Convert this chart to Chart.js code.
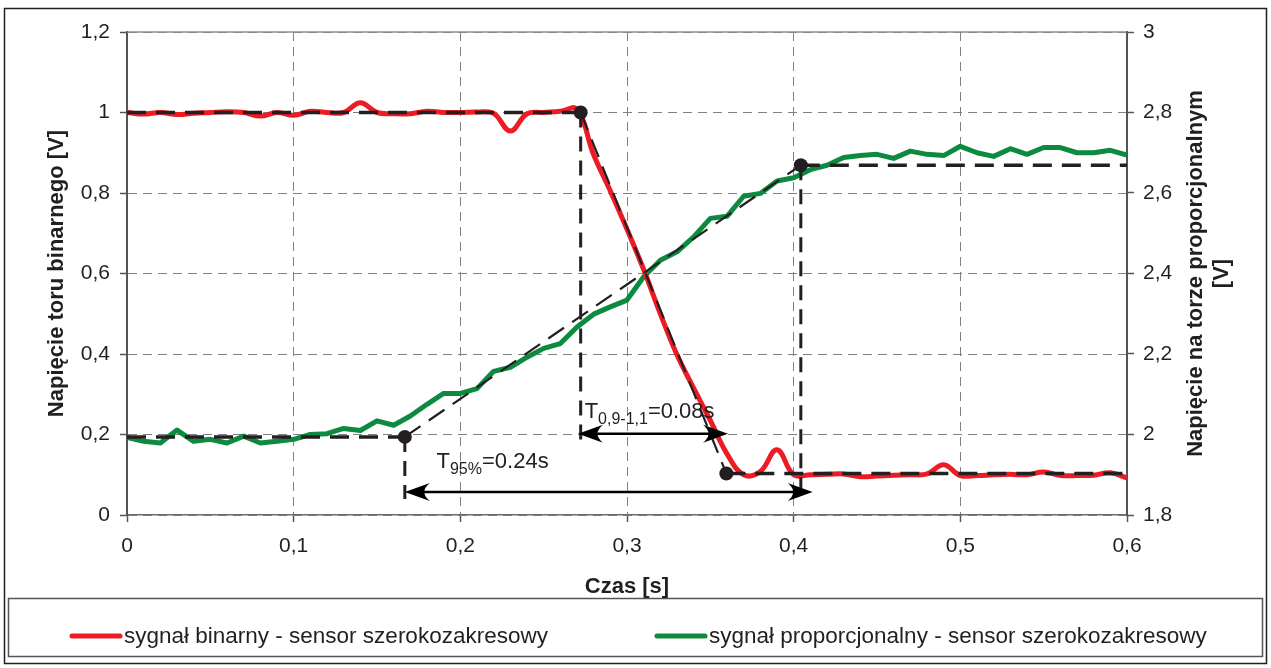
<!DOCTYPE html>
<html>
<head>
<meta charset="utf-8">
<title>Napięcie - sygnał binarny i proporcjonalny</title>
<script src="https://cdn.jsdelivr.net/npm/chart.js@4.4.0/dist/chart.umd.min.js"></script>
<style>
  html, body { margin: 0; padding: 0; background: #fff; }
  #wrap { position: relative; width: 1271px; height: 668px; }
</style>
</head>
<body>
<div id="wrap"><canvas id="chart" width="1271" height="668"></canvas></div>
<script>
// Czas [s] - probki co 0,01 s
const times = [
  0, 0.01, 0.02, 0.03, 0.04, 0.05, 0.06, 0.07, 0.08, 0.09,
  0.10, 0.11, 0.12, 0.13, 0.14, 0.15, 0.16, 0.17, 0.18, 0.19,
  0.20, 0.21, 0.22, 0.23, 0.24, 0.25, 0.26, 0.27, 0.28, 0.29,
  0.30, 0.31, 0.32, 0.33, 0.34, 0.35, 0.36, 0.37, 0.38, 0.39,
  0.40, 0.41, 0.42, 0.43, 0.44, 0.45, 0.46, 0.47, 0.48, 0.49,
  0.50, 0.51, 0.52, 0.53, 0.54, 0.55, 0.56, 0.57, 0.58, 0.59, 0.60
];

// sygnał binarny [V] (oś lewa)
const binarySignal = [
  1.000, 0.996, 1.000, 0.995, 0.998, 1.000, 1.002, 1.000, 0.991, 1.000,
  0.993, 1.003, 1.000, 1.000, 1.024, 1.000, 0.997, 0.997, 1.003, 1.000,
  1.000, 1.001, 0.998, 0.954, 0.997, 1.000, 1.003, 1.008, 0.895, 0.805,
  0.710, 0.610, 0.500, 0.398, 0.315, 0.235, 0.152, 0.100, 0.108, 0.162,
  0.100, 0.100, 0.101, 0.102, 0.095, 0.097, 0.099, 0.100, 0.102, 0.125,
  0.098, 0.098, 0.100, 0.101, 0.100, 0.107, 0.098, 0.098, 0.099, 0.105, 0.092
];

// sygnał proporcjonalny [V] (oś prawa)
const proportionalSignal = [
  1.993, 1.983, 1.979, 2.011, 1.983, 1.988, 1.979, 1.996, 1.979, 1.983,
  1.988, 2.000, 2.002, 2.015, 2.010, 2.034, 2.023, 2.046, 2.075, 2.102,
  2.102, 2.114, 2.157, 2.167, 2.192, 2.214, 2.226, 2.267, 2.299, 2.317,
  2.334, 2.392, 2.433, 2.454, 2.491, 2.537, 2.542, 2.592, 2.599, 2.630,
  2.638, 2.658, 2.669, 2.688, 2.693, 2.696, 2.686, 2.704, 2.696, 2.693,
  2.716, 2.700, 2.691, 2.710, 2.696, 2.713, 2.713, 2.700, 2.700, 2.706, 2.694
];

// linie pomocnicze (przerywane)
const binaryRefX = [0, 0.2722, 0.3596, 0.6];
const binaryRefY = [1.0, 1.0, 0.103, 0.103];
const propRefX = [0, 0.1667, 0.4043, 0.6];
const propRefY = [1.994, 1.994, 2.669, 2.669];
const markerX = [0.2722, 0.1667, 0.4043];
const markerTop = [1.0, 0.194, 0.869];
const markerBottom = [0.186, 0.04, 0.04];

// strzałki i opisy czasów
const arrowFrom = [0.2706, 0.1667];
const arrowTo = [0.3606, 0.4114];
const arrowY = [0.202, 0.057];
const noteMain = ['T', 'T'];
const noteSub = ['0,9-1,1', '95%'];
const noteRest = ['=0.08s', '=0.24s'];
const noteX = [0.2746, 0.1857];
const noteY = [0.2405, 0.116];

const RED = '#ed1c24';
const GREEN = '#0c8a40';
const INK = '#231f20';
const FONT = "'Liberation Sans', Arial, sans-serif";

Chart.defaults.font.family = FONT;
Chart.defaults.color = INK;

const xy = (xs, ys) => xs.map((x, i) => ({ x: x, y: ys[i] }));
const fmt = v => String(Math.round(v * 10) / 10).replace('.', ',');

const refStyle = {
  borderColor: INK,
  backgroundColor: INK,
  borderWidth: 3.5,
  borderDash: [19, 10],
  pointBackgroundColor: INK,
  pointBorderWidth: 0,
  fill: false,
  tension: 0,
  order: 0
};

const markerSets = markerX.map((x, i) => Object.assign({}, refStyle, {
  label: 'marker' + i,
  data: [{ x: x, y: markerTop[i] }, { x: x, y: markerBottom[i] }],
  yAxisID: 'y',
  borderWidth: 3,
  borderDash: [15, 9],
  pointRadius: 0
}));

// rysowanie grotu strzałki
function arrowHead(ctx, tipX, y, dir) {
  ctx.beginPath();
  ctx.moveTo(tipX, y);
  ctx.lineTo(tipX + dir * 25, y - 9);
  ctx.quadraticCurveTo(tipX + dir * 14, y, tipX + dir * 25, y + 9);
  ctx.closePath();
  ctx.fill();
}

const decor = {
  id: 'decor',
  beforeDraw(chart) {
    const ctx = chart.ctx;
    ctx.save();
    ctx.fillStyle = '#fff';
    ctx.fillRect(0, 0, chart.width, chart.height);
    ctx.strokeStyle = INK;
    ctx.lineWidth = 1.5;
    ctx.strokeRect(4.5, 8.5, 1262, 655);
    ctx.restore();
  },
  afterDatasetsDraw(chart) {
    const ctx = chart.ctx;
    const xs = chart.scales.x, ys = chart.scales.y;
    ctx.save();
    ctx.strokeStyle = '#000';
    ctx.fillStyle = '#000';
    ctx.lineWidth = 2.5;
    arrowY.forEach((v, i) => {
      const y = ys.getPixelForValue(v);
      const x1 = xs.getPixelForValue(arrowFrom[i]);
      const x2 = xs.getPixelForValue(arrowTo[i]);
      ctx.beginPath();
      ctx.moveTo(x1 + 8, y);
      ctx.lineTo(x2 - 8, y);
      ctx.stroke();
      arrowHead(ctx, x1, y, 1);
      arrowHead(ctx, x2, y, -1);
    });
    ctx.fillStyle = INK;
    ctx.textBaseline = 'alphabetic';
    ctx.textAlign = 'left';
    noteMain.forEach((t, i) => {
      let x = xs.getPixelForValue(noteX[i]);
      const y = ys.getPixelForValue(noteY[i]);
      ctx.font = '22px ' + FONT;
      ctx.fillText(t, x, y);
      x += ctx.measureText(t).width;
      ctx.font = '16px ' + FONT;
      ctx.fillText(noteSub[i], x, y + 6);
      x += ctx.measureText(noteSub[i]).width;
      ctx.font = '22px ' + FONT;
      ctx.fillText(noteRest[i], x, y);
    });
    ctx.restore();
  },
  afterDraw(chart) {
    const ctx = chart.ctx;
    const area = chart.chartArea;
    ctx.save();
    // górna krawędź obszaru wykresu
    ctx.strokeStyle = '#8c8c8c';
    ctx.lineWidth = 1.5;
    ctx.beginPath();
    ctx.moveTo(area.left, area.top);
    ctx.lineTo(area.right, area.top);
    ctx.stroke();

    // tytuł prawej osi
    ctx.fillStyle = INK;
    ctx.font = 'bold 22px ' + FONT;
    ctx.textAlign = 'center';
    ctx.textBaseline = 'middle';
    ctx.translate(1196, (area.top + area.bottom) / 2);
    ctx.rotate(-Math.PI / 2);
    ctx.fillText('Napięcie na torze proporcjonalnym', 0, 0);
    ctx.fillText('[V]', 0, 26);
    ctx.restore();

    // legenda
    ctx.save();
    ctx.strokeStyle = '#555';
    ctx.lineWidth = 1.5;
    ctx.strokeRect(8.5, 598.5, 1254, 58);
    const legendX = [70, 655];
    const legendY = 636;
    chart.data.datasets.slice(0, 2).forEach((ds, i) => {
      ctx.strokeStyle = ds.borderColor;
      ctx.lineWidth = 5;
      ctx.lineCap = 'round';
      ctx.beginPath();
      ctx.moveTo(legendX[i] + 2, legendY);
      ctx.lineTo(legendX[i] + 50, legendY);
      ctx.stroke();
      ctx.fillStyle = INK;
      ctx.font = '22.5px ' + FONT;
      ctx.textAlign = 'left';
      ctx.textBaseline = 'middle';
      ctx.fillText(ds.label, legendX[i] + 54, legendY + 1);
    });
    ctx.restore();
  }
};

new Chart(document.getElementById('chart'), {
  type: 'line',
  data: {
    datasets: [
      {
        label: 'sygnał binarny - sensor szerokozakresowy',
        data: xy(times, binarySignal),
        yAxisID: 'y',
        borderColor: RED,
        backgroundColor: RED,
        borderWidth: 5,
        tension: 0.4,
        pointRadius: 0,
        fill: false,
        order: 1
      },
      {
        label: 'sygnał proporcjonalny - sensor szerokozakresowy',
        data: xy(times, proportionalSignal),
        yAxisID: 'y2',
        borderColor: GREEN,
        backgroundColor: GREEN,
        borderWidth: 5,
        borderJoinStyle: 'round',
        tension: 0,
        pointRadius: 0,
        fill: false,
        order: 2
      },
      Object.assign({}, refStyle, {
        label: 'ref-binary',
        data: xy(binaryRefX, binaryRefY),
        yAxisID: 'y',
        pointRadius: [0, 7, 7, 0],
        segment: { borderWidth: c => c.p0DataIndex === 1 ? 2.2 : 3.5 }
      }),
      Object.assign({}, refStyle, {
        label: 'ref-proportional',
        data: xy(propRefX, propRefY),
        yAxisID: 'y2',
        pointRadius: [0, 7, 7, 0],
        segment: { borderWidth: c => c.p0DataIndex === 1 ? 2.2 : 3.5 }
      })
    ].concat(markerSets)
  },
  options: {
    responsive: false,
    animation: false,
    events: [],
    devicePixelRatio: 1,
    layout: { padding: { top: 32, bottom: 58, left: 0, right: 0 } },
    plugins: {
      legend: { display: false },
      tooltip: { enabled: false }
    },
    scales: {
      x: {
        type: 'linear',
        min: 0,
        max: 0.6,
        ticks: { stepSize: 0.1, padding: 12, font: { size: 21 }, maxRotation: 0, autoSkip: false, callback: fmt },
        grid: { color: '#808080', lineWidth: 1, tickLength: 7, tickColor: '#555', tickWidth: 1.5 },
        border: { color: '#6d6d6d', width: 1.5, dash: [9, 6] },
        title: { display: true, text: 'Czas [s]', font: { size: 22, weight: 'bold' }, padding: { top: 0, bottom: 10 } },
        afterFit: s => { s.height = 95; }
      },
      y: {
        position: 'left',
        min: 0,
        max: 1.2,
        ticks: { stepSize: 0.2, padding: 10, font: { size: 21 }, callback: fmt },
        grid: { color: '#808080', lineWidth: 1, tickLength: 7, tickColor: '#555', tickWidth: 1.5 },
        border: { color: '#555', width: 2, dash: [9, 6] },
        title: { display: true, text: 'Napięcie toru binarnego [V]', font: { size: 22, weight: 'bold' }, padding: { top: 44, bottom: 0 } },
        afterFit: s => { s.width = 127; }
      },
      y2: {
        position: 'right',
        min: 1.8,
        max: 3,
        ticks: { stepSize: 0.2, padding: 9, font: { size: 21 }, callback: fmt },
        grid: { drawOnChartArea: false, tickLength: 7, tickColor: '#555', tickWidth: 1.5 },
        border: { color: '#555', width: 2 },
        afterFit: s => { s.width = 144; }
      }
    }
  },
  plugins: [decor]
});
</script>
</body>
</html>
